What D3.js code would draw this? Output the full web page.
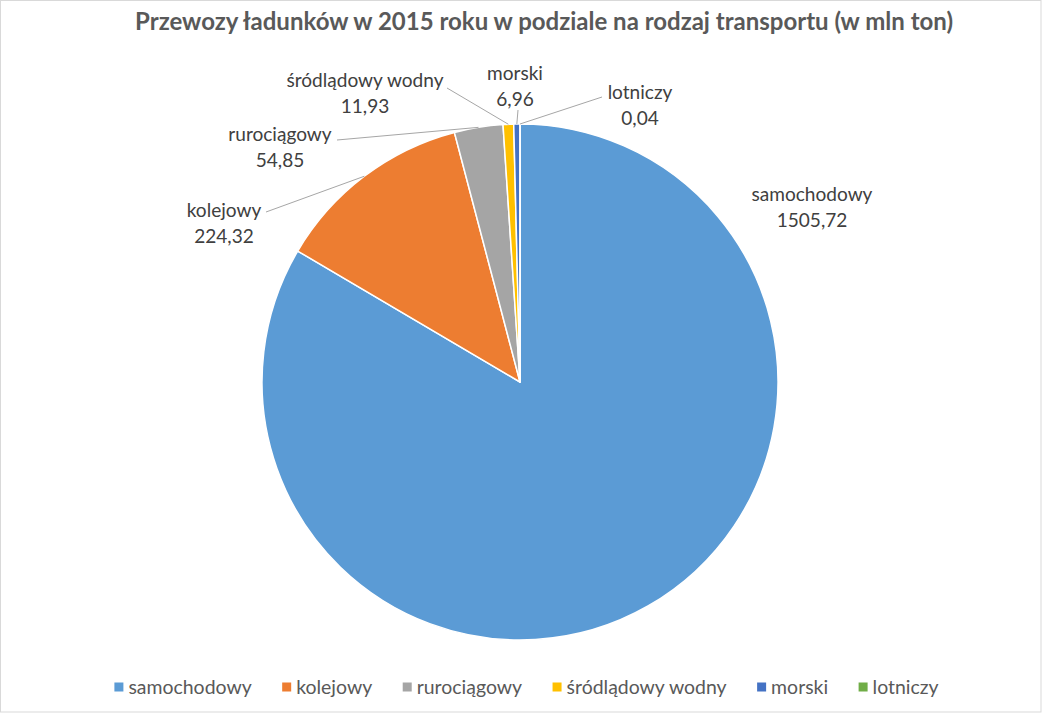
<!DOCTYPE html>
<html><head><meta charset="utf-8">
<script src="https://cdn.jsdelivr.net/npm/d3@7"></script>
<style>body{margin:0;background:#fff}svg{display:block}</style>
</head><body><svg id="c" width="1042" height="713"></svg>
<script>
const categories = ["samochodowy","kolejowy","rurociągowy","śródlądowy wodny","morski","lotniczy"];
const values = [1505.72,224.32,54.85,11.93,6.96,0.04];
const valueLabels = ["1505,72","224,32","54,85","11,93","6,96","0,04"];
const colors = ["#5B9BD5","#ED7D31","#A5A5A5","#FFC000","#4472C4","#70AD47"];
const title = "Przewozy ładunków w 2015 roku w podziale na rodzaj transportu (w mln ton)";

// layout (not data)
const W = 1042, H = 713, cx = 520, cy = 382, R = 258;
const labelLayout = [
  {x:812, y:201, lead:null},
  {x:224, y:217, lead:[266,212]},
  {x:280, y:141, lead:[337,140]},
  {x:365, y:87,  lead:[447,88]},
  {x:515, y:80,  lead:[518,110]},
  {x:640, y:99,  lead:[602,97]}
];
const FONT = "Lato, 'Open Sans', sans-serif";

const svg = d3.select("#c");
svg.append("rect").attr("x",0.5).attr("y",0.5).attr("width",W-1.5).attr("height",H-1.5)
  .attr("fill","#fff").attr("stroke","#D9D9D9").attr("stroke-width",1);

function fitSize(text, target, weight){
  const t = svg.append("text").attr("font-family",FONT).attr("font-size",100)
    .attr("font-weight",weight||"normal").text(text);
  const w = t.node().getComputedTextLength(); t.remove();
  return 100*target/w;
}
const labelFS = fitSize("samochodowy",121);
const legendFS = fitSize("samochodowy śródlądowy wodny",123+161+4);
const titleFS = fitSize(title,818,"bold");

// title
svg.append("text").attr("x",544).attr("y",30).attr("text-anchor","middle")
  .attr("font-family",FONT).attr("font-weight","bold").attr("font-size",titleFS)
  .attr("fill","#595959").text(title);

const data = categories.map((c,i)=>({cat:c, value:values[i], label:valueLabels[i], color:colors[i], lay:labelLayout[i]}));
const pie = d3.pie().value(d=>d.value).sort(null);
const arc = d3.arc().innerRadius(0).outerRadius(R);
const arcs = pie(data);

const g = svg.append("g").attr("transform",`translate(${cx},${cy})`);
g.selectAll("path").data(arcs).join("path")
  .attr("d",arc).attr("fill",d=>d.data.color)
  .attr("stroke","#fff").attr("stroke-width",1.5).attr("stroke-linejoin","round");

// leader lines
arcs.forEach(a=>{
  const L = a.data.lay;
  if(!L.lead) return;
  const mid = (a.startAngle+a.endAngle)/2;
  const ex = cx + R*Math.sin(mid), ey = cy - R*Math.cos(mid);
  svg.append("line").attr("x1",L.lead[0]).attr("y1",L.lead[1]).attr("x2",ex).attr("y2",ey)
    .attr("stroke","#A6A6A6").attr("stroke-width",1);
});

// labels
arcs.forEach(a=>{
  const L = a.data.lay;
  const t = svg.append("text").attr("text-anchor","middle").attr("font-family",FONT)
    .attr("font-size",labelFS).attr("fill","#404040");
  t.append("tspan").attr("x",L.x).attr("y",L.y).text(a.data.cat);
  t.append("tspan").attr("x",L.x).attr("y",L.y+26).text(a.data.label);
});

// legend
const lg = svg.append("g");
const mk = 9, mgap = 5, igap = 30.5;
let xpos = 0;
data.forEach(d=>{
  const it = lg.append("g");
  it.append("rect").attr("x",xpos).attr("y",-mk/2).attr("width",mk).attr("height",mk).attr("fill",d.color);
  const t = it.append("text").attr("x",xpos+mk+mgap).attr("y",0).attr("dy","0.35em")
    .attr("font-family",FONT).attr("font-size",legendFS).attr("fill","#595959").text(d.cat);
  xpos += mk+mgap+t.node().getComputedTextLength()+igap;
});
const total = xpos - igap;
lg.attr("transform",`translate(${526.5-total/2},687)`);
</script>
</body></html>
